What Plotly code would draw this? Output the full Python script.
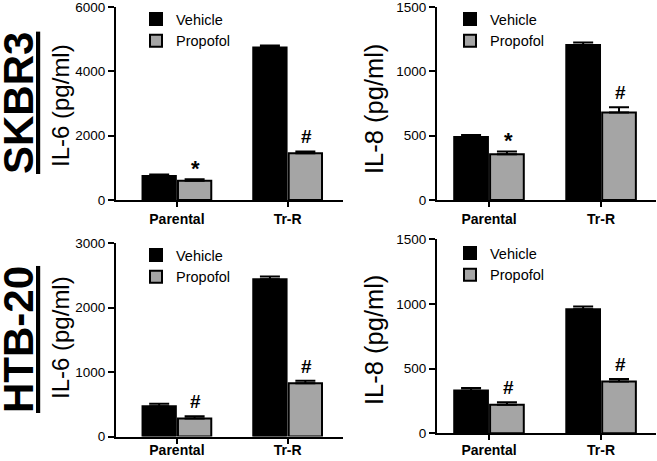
import plotly.graph_objects as go

W, H = 657, 461
FONT = "Liberation Sans, Arial, sans-serif"

categories = ["Parental", "Tr-R"]
groups = ["Vehicle", "Propofol"]

# values per panel
skbr3_il6_vehicle = [750, 4740]
skbr3_il6_vehicle_err = [45, 60]
skbr3_il6_propofol = [600, 1450]
skbr3_il6_propofol_err = [45, 60]
skbr3_il6_marks = ["*", "#"]

skbr3_il8_vehicle = [490, 1205]
skbr3_il8_vehicle_err = [15, 20]
skbr3_il8_propofol = [355, 680]
skbr3_il8_propofol_err = [22, 40]
skbr3_il8_marks = ["*", "#"]

htb20_il6_vehicle = [470, 2440]
htb20_il6_vehicle_err = [40, 45]
htb20_il6_propofol = [278, 825]
htb20_il6_propofol_err = [38, 40]
htb20_il6_marks = ["#", "#"]

htb20_il8_vehicle = [330, 960]
htb20_il8_vehicle_err = [20, 20]
htb20_il8_propofol = [220, 400]
htb20_il8_propofol_err = [20, 20]
htb20_il8_marks = ["#", "#"]

y_ticks_il6_top = [0, 2000, 4000, 6000]
y_ticks_il8 = [0, 500, 1000, 1500]
y_ticks_il6_bottom = [0, 1000, 2000, 3000]

GRAY = "#a5a5a5"


def px_x(a, b):
    return [a / W, b / W]


def px_y(top, bottom):
    return [1 - bottom / H, 1 - top / H]


panels = [
    dict(veh=skbr3_il6_vehicle, veh_err=skbr3_il6_vehicle_err, pro=skbr3_il6_propofol,
         pro_err=skbr3_il6_propofol_err, marks=skbr3_il6_marks, ticks=y_ticks_il6_top,
         xd=px_x(116, 343), yd=px_y(7, 200), xr=[-0.55, 1.5], title="IL-6 (pg/ml)",
         tx=60, ty=106, tsize=24, legend="legend", lx=136, ly=3, standoff=0),
    dict(veh=skbr3_il8_vehicle, veh_err=skbr3_il8_vehicle_err, pro=skbr3_il8_propofol,
         pro_err=skbr3_il8_propofol_err, marks=skbr3_il8_marks, ticks=y_ticks_il8,
         xd=px_x(437, 656), yd=px_y(7, 200), xr=[-0.464, 1.49], title="IL-8 (pg/ml)",
         tx=374, ty=109, tsize=25.5, legend="legend2", lx=450, ly=3, standoff=0),
    dict(veh=htb20_il6_vehicle, veh_err=htb20_il6_vehicle_err, pro=htb20_il6_propofol,
         pro_err=htb20_il6_propofol_err, marks=htb20_il6_marks, ticks=y_ticks_il6_bottom,
         xd=px_x(116, 343), yd=px_y(243.3, 436.5), xr=[-0.55, 1.5], title="IL-6 (pg/ml)",
         tx=60, ty=338, tsize=24, legend="legend3", lx=136, ly=239, standoff=-5),
    dict(veh=htb20_il8_vehicle, veh_err=htb20_il8_vehicle_err, pro=htb20_il8_propofol,
         pro_err=htb20_il8_propofol_err, marks=htb20_il8_marks, ticks=y_ticks_il8,
         xd=px_x(437, 656), yd=px_y(239.3, 433.3), xr=[-0.464, 1.49], title="IL-8 (pg/ml)",
         tx=374, ty=340, tsize=25.5, legend="legend4", lx=450, ly=237, standoff=-2),
]

fig = go.Figure()
annotations = []
layout = {}

for i, p in enumerate(panels):
    n = "" if i == 0 else str(i + 1)
    xa, ya = "x" + n, "y" + n
    for name, vals, errs, color in [("Vehicle", p["veh"], p["veh_err"], "black"),
                                    ("Propofol", p["pro"], p["pro_err"], GRAY)]:
        fig.add_trace(go.Bar(
            x=categories, y=vals, name=name, xaxis=xa, yaxis=ya,
            marker=dict(color=color, line=dict(color="black", width=2)),
            error_y=dict(type="data", array=errs, arrayminus=[0] * len(errs),
                         symmetric=False, color="black", thickness=2, width=10),
            legend=p["legend"], offsetgroup=name, hoverinfo="skip",
        ))
    # significance marks above propofol bars
    for c, v, e, m in zip(categories, p["pro"], p["pro_err"], p["marks"]):
        annotations.append(dict(
            x=c, y=v + e, xref=xa, yref=ya, text="<b>%s</b>" % m, showarrow=False,
            xanchor="center", yanchor="bottom", xshift=19,
            yshift=(-4 if m == "*" else 2),
            font=dict(family=FONT, size=(22 if m == "*" else 19), color="black"),
        ))
    # y-axis title
    annotations.append(dict(
        x=p["tx"] / W, y=1 - p["ty"] / H, xref="paper", yref="paper",
        text=p["title"], textangle=-90, showarrow=False, xanchor="center", yanchor="middle",
        font=dict(family=FONT, size=p["tsize"], color="black"),
    ))
    layout["xaxis" + n] = dict(
        domain=p["xd"], range=p["xr"], anchor=ya, type="category",
        showline=True, linecolor="black", linewidth=2, ticks="outside", ticklen=5,
        tickwidth=2, tickcolor="black", showgrid=False, zeroline=False, automargin=False,
        ticklabelstandoff=p["standoff"], ticklabeloverflow="allow",
        tickfont=dict(family=FONT, size=14, color="black"), tickprefix="<b>", ticksuffix="</b>",
    )
    layout["yaxis" + n] = dict(
        domain=p["yd"], range=[0, p["ticks"][-1]], anchor=xa, tickvals=p["ticks"],
        showline=True, linecolor="black", linewidth=2, ticks="outside", ticklen=6,
        tickwidth=2, tickcolor="black", showgrid=False, zeroline=False, automargin=False,
        ticklabeloverflow="allow",
        tickfont=dict(family=FONT, size=13.5, color="black"), tickprefix="<b>", ticksuffix="</b>",
    )
    layout[p["legend"]] = dict(
        x=p["lx"] / W, y=1 - p["ly"] / H, xanchor="left", yanchor="top",
        bgcolor="rgba(0,0,0,0)", font=dict(family=FONT, size=14.5, color="black"),
        traceorder="normal", itemclick=False,
    )

# cell line labels
for label, cy in [("SKBR3", 103), ("HTB-20", 340)]:
    annotations.append(dict(
        x=18 / W, y=1 - cy / H, xref="paper", yref="paper",
        text="<b><u>%s</u></b>" % label, textangle=-90, showarrow=False,
        xanchor="center", yanchor="middle",
        font=dict(family=FONT, size=42, color="black"),
    ))

fig.update_layout(
    width=W, height=H, margin=dict(l=0, r=0, t=0, b=0, autoexpand=False),
    paper_bgcolor="white", plot_bgcolor="white",
    barmode="group", bargap=0.36, bargroupgap=0.06,
    annotations=annotations, showlegend=True, hovermode=False,
    font=dict(family=FONT, color="black"),
    **layout,
)

fig.write_html(
    "out.html",
    config={"displayModeBar": False},
    post_script="document.body.style.margin='0';document.body.style.overflow='hidden';",
)
